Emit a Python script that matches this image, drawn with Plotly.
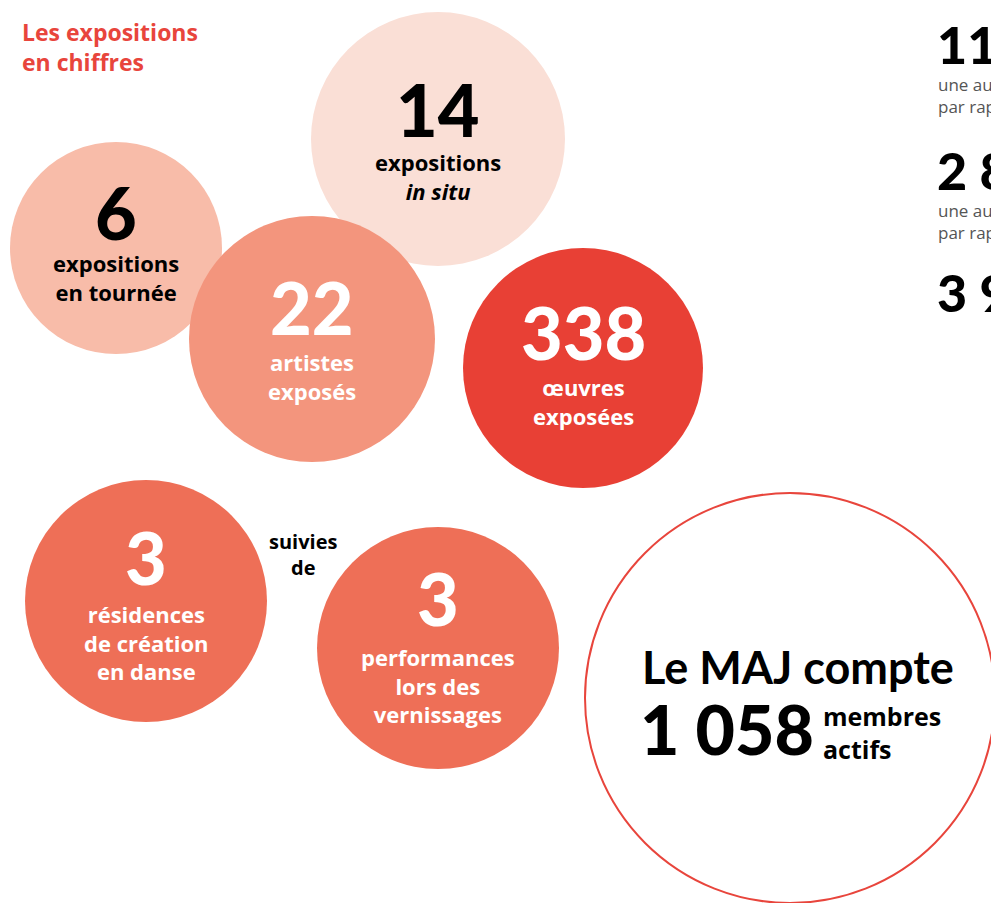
import plotly.graph_objects as go

# ── données ─────────────────────────────────────
titre = "Les expositions<br>en chiffres"

chiffres = ["14", "6", "22", "338", "3", "3"]
libelles = [
    "expositions<br><i>in situ</i>",
    "expositions<br>en tournée",
    "artistes<br>exposés",
    "œuvres<br>exposées",
    "résidences<br>de création<br>en danse",
    "performances<br>lors des<br>vernissages",
]
# position / taille des bulles (pixels de la maquette)
bulle_x = [438, 116, 312, 583, 146, 438]
bulle_y = [139, 248, 339, 368, 601, 648]
bulle_r = [127, 106, 123, 120, 121, 121]
chiffre_y = [114, 217, 312, 337, 562, 603]
libelle_y = [176, 277, 376, 401, 642, 685]
bulle_couleur = ["#FADFD6", "#F8BCA9", "#F3957D", "#E84035", "#EE6F57", "#EE6F57"]
texte_couleur = ["#000000", "#000000", "#FFFFFF", "#FFFFFF", "#FFFFFF", "#FFFFFF"]

membres = "1 058"
membres_x, membres_y, membres_r = 790, 698, 205

colonne_droite = ["11 3", "2 8", "3 9"]
colonne_y = [44, 170, 292]
colonne_sous = ["une augmentation<br>par rapport", "une augmentation<br>par rapport", ""]

ROUGE = "#E8453C"
CHIFFRES = "Lato"
TEXTE = "Open Sans"

fig = go.Figure()

# ── bulles ─────────────────────────────────────
for i in range(len(chiffres)):
    fig.add_shape(
        type="circle", xref="x", yref="y",
        x0=bulle_x[i] - bulle_r[i], x1=bulle_x[i] + bulle_r[i],
        y0=bulle_y[i] - bulle_r[i], y1=bulle_y[i] + bulle_r[i],
        fillcolor=bulle_couleur[i], line=dict(width=0), layer="below",
    )
    fig.add_annotation(
        x=bulle_x[i], y=chiffre_y[i] - 5, text=chiffres[i], showarrow=False,
        xanchor="center", yanchor="middle",
        font=dict(family=CHIFFRES, size=72, color=texte_couleur[i], weight=900),
    )
    fig.add_annotation(
        x=bulle_x[i], y=libelle_y[i], text=libelles[i], showarrow=False,
        xanchor="center", yanchor="middle",
        font=dict(family=TEXTE, size=22, color=texte_couleur[i], weight="bold"),
    )

fig.add_annotation(
    x=303, y=554, text="suivies<br>de", showarrow=False,
    xanchor="center", yanchor="middle",
    font=dict(family=TEXTE, size=20, color="#000000", weight="bold"),
)

# ── grande bulle membres ───────────────────────
fig.add_shape(
    type="circle", xref="x", yref="y",
    x0=membres_x - membres_r, x1=membres_x + membres_r,
    y0=membres_y - membres_r, y1=membres_y + membres_r,
    fillcolor="rgba(0,0,0,0)", line=dict(color=ROUGE, width=2),
)
fig.add_annotation(
    x=640, y=667, text="Le MAJ compte", showarrow=False,
    xanchor="left", yanchor="middle",
    font=dict(family=CHIFFRES, size=45, color="#000000", weight="bold"),
)
fig.add_annotation(
    x=638, y=728, text=membres, showarrow=False,
    xanchor="left", yanchor="middle",
    font=dict(family=CHIFFRES, size=68, color="#000000", weight=900),
)
fig.add_annotation(
    x=821, y=732, text="membres<br>actifs", showarrow=False,
    xanchor="left", yanchor="middle", align="left",
    font=dict(family=TEXTE, size=25, color="#000000", weight="bold"),
)

# ── titre ──────────────────────────────────────
fig.add_annotation(
    x=20, y=47, text=titre, showarrow=False,
    xanchor="left", yanchor="middle", align="left",
    font=dict(family=TEXTE, size=23, color=ROUGE, weight="bold"),
)

# ── colonne de droite (coupée par le bord) ─────
for i in range(len(colonne_droite)):
    fig.add_annotation(
        x=935, y=colonne_y[i], text=colonne_droite[i], showarrow=False,
        xanchor="left", yanchor="middle",
        font=dict(family=CHIFFRES, size=52, color="#000000", weight=900),
    )
    if colonne_sous[i]:
        fig.add_annotation(
            x=936, y=colonne_y[i] + 51, text=colonne_sous[i], showarrow=False,
            xanchor="left", yanchor="middle", align="left",
            font=dict(family=TEXTE, size=17, color="#555555"),
        )

# axes = pixels de la fenêtre (marge de la page retirée plus bas)
fig.update_xaxes(range=[0, 991], visible=False, fixedrange=True)
fig.update_yaxes(range=[903, 0], visible=False, fixedrange=True)
fig.update_layout(
    width=991, height=903,
    margin=dict(l=0, r=0, t=0, b=0),
    paper_bgcolor="#FFFFFF", plot_bgcolor="#FFFFFF",
    showlegend=False,
)

fig.write_html(
    "out.html",
    config={"displayModeBar": False},
    post_script="document.body.style.margin='0';document.body.style.overflow='hidden';",
)
